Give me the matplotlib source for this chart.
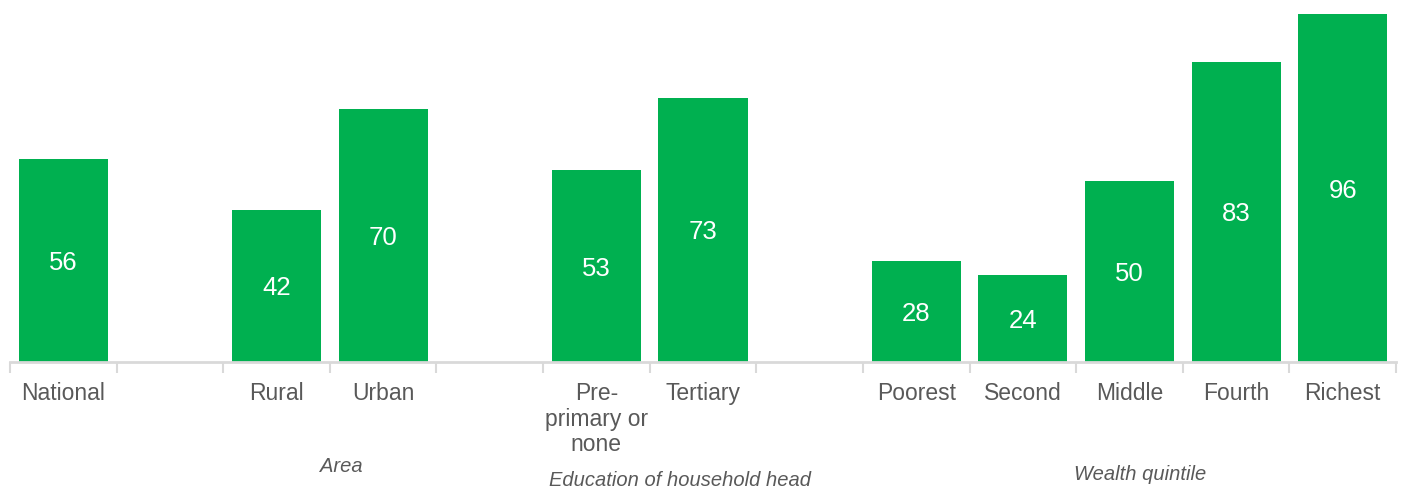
import matplotlib.pyplot as plt
import numpy as np

# categories laid out on slots, None = empty spacer slot
labels = ["National", None, "Rural", "Urban", None, "Pre-\nprimary or\nnone", "Tertiary", None,
          "Poorest", "Second", "Middle", "Fourth", "Richest"]
values = [56, None, 42, 70, None, 53, 73, None, 28, 24, 50, 83, 96]
groups = ["Area", "Education of household head", "Wealth quintile"]
group_x = [2.61, 5.78, 10.1]
group_y = [466, 480, 474]

green = "#00B050"
grey = "#595959"

plt.rcParams["font.family"] = ["Liberation Sans", "DejaVu Sans"]

fig = plt.figure(figsize=(14.03, 4.87), dpi=100)
ax = fig.add_axes([10 / 1403, (487 - 362) / 487, 1386 / 1403, 362 / 487])

x = np.arange(len(labels))
for xi, v in zip(x, values):
    if v is None:
        continue
    ax.bar(xi, v, width=0.835, color=green, zorder=2)
    ax.text(xi, v / 2, str(v), ha="center", va="center_baseline", color="white",
            fontsize=18.5)

ax.set_xlim(-0.5, len(labels) - 0.5)
ax.set_ylim(0, 100)
ax.set_yticks([])
for s in ["top", "right", "left"]:
    ax.spines[s].set_visible(False)
ax.spines["bottom"].set_color("#d9d9d9")
ax.spines["bottom"].set_linewidth(2)

# tick marks on slot boundaries, labels at slot centres
ax.set_xticks(np.arange(-0.5, len(labels)))
ax.set_xticklabels([])
ax.tick_params(axis="x", length=8, width=1.5, color="#d9d9d9")

for xi, lab in zip(x, labels):
    if lab is None:
        continue
    ax.text(xi, -5.5, lab, ha="center", va="top", color=grey, fontsize=16.5,
            linespacing=1.15)

for name, gx, gy in zip(groups, group_x, group_y):
    ax.text(gx, (362 - gy) / 362, name, transform=ax.get_xaxis_transform(),
            ha="center", va="center", color=grey, fontsize=14.5, style="italic")

fig.savefig("out.png", dpi=100)
